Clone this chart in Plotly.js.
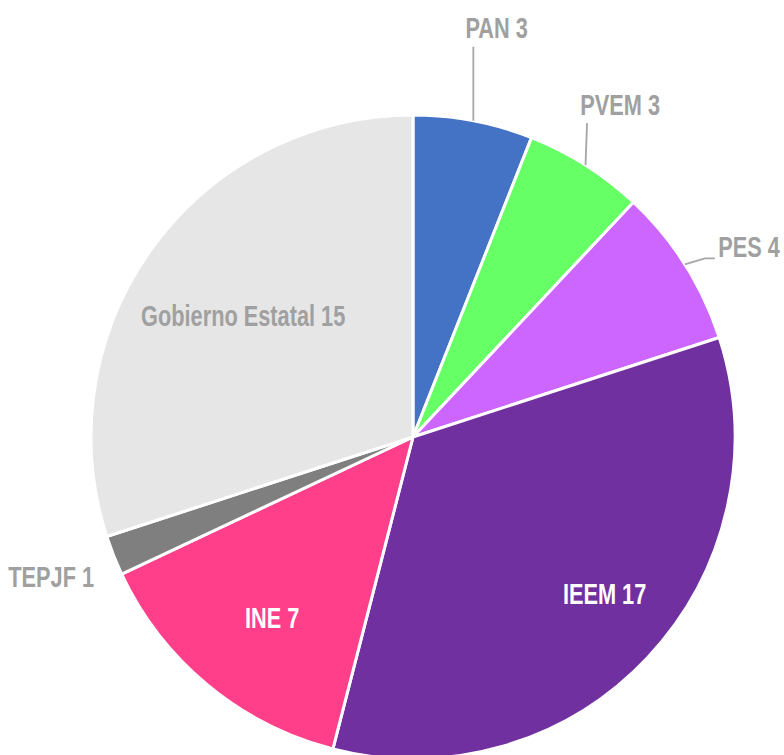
<!DOCTYPE html>
<html>
<head>
<meta charset="utf-8">
<script src="https://cdn.plot.ly/plotly-3.0.1.min.js"></script>
<style>
html, body { margin: 0; padding: 0; overflow: hidden; background: #ffffff; }
#chart { width: 784px; height: 874px; }
</style>
</head>
<body>
<div id="chart"></div>
<script>
// ---- data ----
const labels = ['PAN', 'PVEM', 'PES', 'IEEM', 'INE', 'TEPJF', 'Gobierno Estatal'];
const values = [3, 3, 4, 17, 7, 1, 15];
const colors = ['#4472C4', '#66FF66', '#CC66FF', '#7030A0', '#FF3F8A', '#7F7F7F', '#E6E6E6'];
const textColors = ['#A0A0A0', '#A0A0A0', '#A0A0A0', '#FFFFFF', '#FFFFFF', '#A0A0A0', '#A0A0A0'];

// ---- label placement (style) ----
const placement = [
  { out: true, tx: 23, ty: -93, line: [[0, 0], [0, -74]] },
  { out: true, tx: 34, ty: -60, line: [[0, 0], [1.5, -42]] },
  { out: true, tx: 64, ty: -17, line: [[0, 0], [20, -6], [30, -6]] },
  { out: false, shift: -3.9, r: 0.77 },
  { out: false, shift: -1.7, r: 0.712 },
  { out: true, tx: -63, ty: 21, line: null },
  { out: false, shift: -0.6, r: 0.648 }
];
const condense = 0.75;

const W = 784, H = 874;
const CX = 413, CY = 437, R = 322;
const px = x => x / W;
const py = y => 1 - y / H;

const total = values.reduce((a, b) => a + b, 0);
const annotations = [];
const shapes = [];
let cum = 0;
values.forEach((v, i) => {
  const mid = (cum + v / 2) / total * 360;
  cum += v;
  const p = placement[i];
  const txt = labels[i] + ' ' + v;
  let x, y;
  if (p.out) {
    const rad = mid * Math.PI / 180;
    const ex = CX + R * Math.sin(rad), ey = CY - R * Math.cos(rad);
    x = ex + p.tx; y = ey + p.ty;
    if (p.line) {
      const d = p.line.map((q, k) => (k ? 'L' : 'M') + px(ex + q[0]) + ',' + py(ey + q[1])).join(' ');
      shapes.push({ type: 'path', xref: 'paper', yref: 'paper', path: d,
        line: { color: '#A6A6A6', width: 1.8 } });
    }
  } else {
    const rad = (mid + p.shift) * Math.PI / 180;
    x = CX + p.r * R * Math.sin(rad);
    y = CY - p.r * R * Math.cos(rad);
  }
  annotations.push({
    xref: 'paper', yref: 'paper', x: px(x), y: py(y),
    xanchor: 'center', yanchor: 'middle', showarrow: false,
    text: txt,
    font: { family: 'Liberation Sans, Arial, sans-serif', size: 29, weight: 'bold', color: textColors[i] }
  });
});

const trace = {
  type: 'pie',
  labels: labels,
  values: values,
  sort: false,
  direction: 'clockwise',
  rotation: 0,
  textinfo: 'none',
  hoverinfo: 'label+value',
  marker: { colors: colors, line: { color: '#FFFFFF', width: 3 } },
  domain: { x: [91 / W, 735 / W], y: [0, 1] },
  showlegend: false
};

Plotly.newPlot('chart', [trace], {
  width: W, height: H,
  margin: { l: 0, r: 0, t: 0, b: 0, pad: 0 },
  paper_bgcolor: '#FFFFFF',
  showlegend: false,
  annotations: annotations,
  shapes: shapes
}, { displayModeBar: false, staticPlot: true }).then(() => {
  // narrow the label glyphs to imitate the condensed typeface
  document.querySelectorAll('#chart text.annotation-text').forEach(el => {
    const bb = el.getBBox();
    const cx = bb.x + bb.width / 2;
    const prev = el.getAttribute('transform') || '';
    el.setAttribute('transform', prev + ' translate(' + cx + ',0) scale(' + condense + ',1) translate(' + (-cx) + ',0)');
  });
});
</script>
</body>
</html>
